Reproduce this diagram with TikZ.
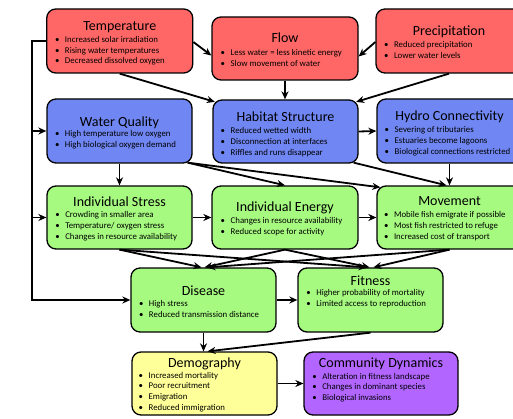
\documentclass[tikz,border=0pt]{standalone}
\usepackage{fontspec}
\setmainfont{Carlito}
\usetikzlibrary{arrows.meta,calc}
\definecolor{cred}{RGB}{255,102,102}
\definecolor{cblue}{RGB}{112,134,242}
\definecolor{cgreen}{RGB}{166,250,128}
\definecolor{cyellow}{RGB}{255,255,153}
\definecolor{cpurple}{RGB}{178,102,255}
\tikzset{
 box/.style={draw=black, line width=1.3pt, rounded corners=9pt, minimum width=146pt, minimum height=64pt, inner sep=0pt},
 ttl/.style={anchor=base, inner sep=0pt, font=\fontsize{14}{16}\selectfont},
 blt/.style={anchor=base west, inner sep=0pt, align=left, font=\fontsize{8.8}{10.9}\selectfont},
 arr/.style={line width=1.8pt, -{Stealth[length=8pt,width=7pt]}},
}
\newcommand\bl{\makebox[10pt][l]{\textbullet}}
\begin{document}
\begin{tikzpicture}[x=1pt,y=-1pt]
\useasboundingbox (0,0) rectangle (513,419);
\clip (0,0) rectangle (513,419);
% row 1
\node[box, fill=cred] (temp) at (119.75,41) {};
\node[ttl] (tempT) at (119.75,30.5) {Temperature};
\node[blt] (tempB) at (54.8,64.0) {\bl Increased solar irradiation\\\bl Rising water temperatures\\\bl Decreased dissolved oxygen};
\node[box, fill=cred, minimum height=63pt] (flow) at (285,48.5) {};
\node[ttl] (flowT) at (285,43) {Flow};
\node[blt] (flowB) at (220.5,66.9) {\bl Less water = less kinetic energy\\\bl Slow movement of water};
\node[box, fill=cred] (precip) at (449,41) {};
\node[ttl] (precipT) at (449,35.5) {Precipitation};
\node[blt] (precipB) at (383.8,58.2) {\bl Reduced precipitation\\\bl Lower water levels};
% row 2
\node[box, fill=cblue, minimum width=145pt] (wq) at (119.5,131) {};
\node[ttl] (wqT) at (119.5,126.5) {Water Quality};
\node[blt] (wqB) at (54.8,147.9) {\bl High temperature low oxygen\\\bl High biological oxygen demand};
\node[box, fill=cblue, minimum width=145pt, minimum height=63pt] (hab) at (285.5,131.5) {};
\node[ttl] (habT) at (285.5,121.7) {Habitat Structure};
\node[blt] (habB) at (220.5,155.1) {\bl Reduced wetted width\\\bl Disconnection at interfaces\\\bl Riffles and runs disappear};
\node[box, fill=cblue, minimum width=145pt] (hydro) at (449.5,131) {};
\node[ttl] (hydroT) at (449.5,121) {Hydro Connectivity};
\node[blt] (hydroB) at (384.5,154.3) {\bl Severing of tributaries\\\bl Estuaries become lagoons\\\bl Biological connections restricted};
% row 3
\node[box, fill=cgreen, minimum width=145pt, minimum height=63pt] (stress) at (119.5,217.5) {};
\node[ttl] (stressT) at (119.5,206.7) {Individual Stress};
\node[blt] (stressB) at (55.1,239.3) {\bl Crowding in smaller area\\\bl Temperature/ oxygen stress\\\bl Changes in resource availability};
\node[box, fill=cgreen, minimum height=63pt] (energy) at (285,217.5) {};
\node[ttl] (energyT) at (285,212) {Individual Energy};
\node[blt] (energyB) at (220.5,234.4) {\bl Changes in resource availability\\\bl Reduced scope for activity};
\node[box, fill=cgreen, minimum width=145pt, minimum height=63pt] (move) at (449.5,217.5) {};
\node[ttl] (moveT) at (449.5,206) {Movement};
\node[blt] (moveB) at (383.8,239.3) {\bl Mobile fish emigrate if possible\\\bl Most fish restricted to refuge\\\bl Increased cost of transport};
% row 4
\node[box, fill=cgreen, minimum width=145pt] (disease) at (203.5,300) {};
\node[ttl] (diseaseT) at (203.5,295.7) {Disease};
\node[blt] (diseaseB) at (138.8,317.4) {\bl High stress\\\bl Reduced transmission distance};
\node[box, fill=cgreen, minimum width=145pt] (fitness) at (370.5,300) {};
\node[ttl] (fitnessT) at (370.5,285) {Fitness};
\node[blt] (fitnessB) at (306.1,306.4) {\bl Higher probability of mortality\\\bl Limited access to reproduction};
% row 5
\node[box, fill=cyellow, minimum width=145pt, minimum height=63pt] (demo) at (204.5,383.5) {};
\node[ttl] (demoT) at (204.5,367.3) {Demography};
\node[blt] (demoB) at (138.5,410.7) {\bl Increased mortality\\\bl Poor recruitment\\\bl Emigration\\\bl Reduced immigration};
\node[box, fill=cpurple, minimum width=154pt, minimum height=63pt] (comm) at (381,383.5) {};
\node[ttl] (commT) at (381,367.3) {Community Dynamics};
\node[blt] (commB) at (312.1,400.8) {\bl Alteration in fitness landscape\\\bl Changes in dominant species\\\bl Biological invasions};
% connectors
\coordinate (lt) at (32,41);
\coordinate (lb) at (32,300);
\draw[arr] (temp.west) -- (lt) -- (lb) -- (disease.west);
\draw[arr] (lt |- wq.west) -- (wq.west);
\draw[arr] (lt |- stress.west) -- (stress.west);
\draw[arr] ($(temp.east)+(0,1)$) -- ($(flow.west)+(0,7)$);
\draw[arr] (temp.south) -- ($(hab.north west)+(2.5,2.5)$);
\draw[arr] ($(precip.west)+(0,1)$) -- ($(flow.east)+(0,8)$);
\draw[arr] (precip.south) -- ($(hab.north east)+(-2.5,2.5)$);
\draw[arr] (flow.south) -- (flow.south |- hab.north);
\draw[arr] (wq.south) -- (stress.north);
\draw[arr] ($(wq.south east)+(-5,-1)$) -- (energy.north);
\draw[arr] ($(wq.south east)+(-5,-1)$) -- ($(move.north west)+(4,2)$);
\draw[arr] ($(hab.south east)+(-5,-1)$) -- ($(move.north)+(-3,0)$);
\draw[arr] (hab.east) -- (hydro.west);
\draw[arr] (hydro.south) -- (move.north);
\draw[arr] (stress.east) -- (energy.west);
\draw[arr] (energy.east) -- (move.west);
\draw[arr] (stress.south) -- ($(disease.north)+(-2,0)$);
\draw[arr] (stress.south) -- ($(fitness.north)+(-4,0)$);
\draw[arr] (energy.south) -- ($(disease.north)+(1,0)$);
\draw[arr] (energy.south) -- ($(fitness.north)+(-1,0)$);
\draw[arr] (move.south) -- ($(disease.north)+(4,0)$);
\draw[arr] (move.south) -- ($(fitness.north)+(3,0)$);
\draw[arr] (disease.east) -- (fitness.west);
\draw[arr] (disease.south) -- (disease.south |- demo.north);
\draw[arr] (fitness.south) -- ($(demo.north)+(3,0)$);
\draw[arr] (demo.east) -- (comm.west);
\end{tikzpicture}
\end{document}
